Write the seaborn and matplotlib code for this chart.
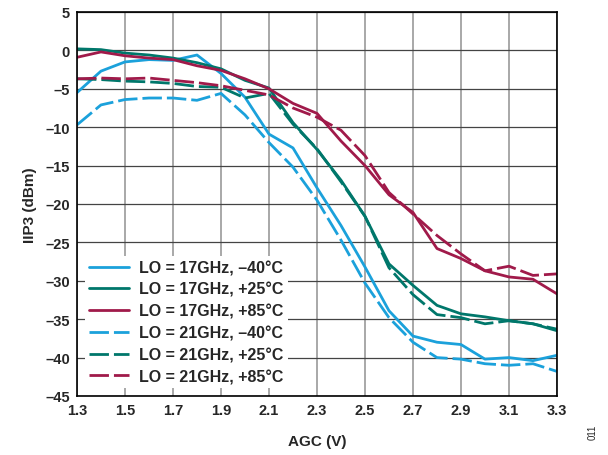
import numpy as np
import pandas as pd
import seaborn as sns
import matplotlib.pyplot as plt

# AGC voltage sweep (V)
agc = [1.3, 1.4, 1.5, 1.6, 1.7, 1.8, 1.9, 2.0, 2.1, 2.2, 2.3,
       2.4, 2.5, 2.6, 2.7, 2.8, 2.9, 3.0, 3.1, 3.2, 3.3]

# IIP3 (dBm)
lo17_m40 = [-5.5, -2.7, -1.5, -1.2, -1.3, -0.6, -3.0, -6.1, -10.9, -12.7, -17.9,
            -22.8, -28.2, -33.9, -37.2, -38.0, -38.3, -40.2, -40.0, -40.4, -39.7]
lo17_p25 = [0.2, 0.1, -0.35, -0.6, -1.0, -1.6, -2.4, -3.9, -4.9, -9.4, -12.9,
            -16.9, -21.6, -27.8, -30.6, -33.2, -34.3, -34.7, -35.2, -35.6, -36.5]
lo17_p85 = [-0.9, -0.2, -0.7, -1.0, -1.2, -2.0, -2.6, -3.7, -5.0, -6.9, -8.2,
            -11.8, -15.0, -18.8, -21.1, -25.8, -27.1, -28.7, -29.5, -29.8, -31.7]
lo21_m40 = [-9.7, -7.1, -6.4, -6.2, -6.2, -6.5, -5.6, -8.4, -12.0, -15.2, -19.5,
            -24.7, -30.3, -34.8, -38.0, -40.0, -40.2, -40.8, -41.0, -40.8, -41.8]
lo21_p25 = [-3.7, -3.8, -4.0, -4.1, -4.3, -4.7, -4.8, -6.2, -5.6, -9.6, -12.8,
            -17.1, -21.6, -28.3, -31.8, -34.4, -34.8, -35.6, -35.2, -35.6, -36.3]
lo21_p85 = [-3.7, -3.6, -3.7, -3.6, -3.9, -4.2, -4.6, -5.2, -5.8, -7.5, -8.7,
            -10.4, -13.7, -18.5, -21.3, -24.1, -26.5, -28.7, -28.1, -29.3, -29.1]

labels = ["LO = 17GHz, \u201340°C", "LO = 17GHz, +25°C", "LO = 17GHz, +85°C",
          "LO = 21GHz, \u201340°C", "LO = 21GHz, +25°C", "LO = 21GHz, +85°C"]
series = [lo17_m40, lo17_p25, lo17_p85, lo21_m40, lo21_p25, lo21_p85]

blue, teal, maroon = "#1ba1db", "#00776b", "#a01a4a"
palette = dict(zip(labels, [blue, teal, maroon, blue, teal, maroon]))
dash_map = dict(zip(labels, [""] * 3 + [(7, 1.8)] * 3))

df = pd.concat([pd.DataFrame({"AGC": agc, "IIP3": v, "series": l})
                for l, v in zip(labels, series)])

sns.set_style("white")
plt.rcParams["font.family"] = ["Liberation Sans", "DejaVu Sans"]
plt.rcParams["font.weight"] = "bold"

fig = plt.figure(figsize=(6.08, 4.56), dpi=100)
ax = fig.add_axes([0.1266, 0.1294, 0.7895, 0.8421])

sns.lineplot(data=df, x="AGC", y="IIP3", hue="series", style="series",
             hue_order=labels, style_order=labels, palette=palette,
             dashes=dash_map, linewidth=2.0, ax=ax)

ax.set_xlim(1.3, 3.3)
ax.set_ylim(-45, 5)
ax.set_xticks(np.arange(1.3, 3.31, 0.2))
ax.set_xticklabels([f"{t:.1f}" for t in np.arange(1.3, 3.31, 0.2)])
ax.set_yticks(np.arange(-45, 6, 5))
ax.set_yticklabels([f"{t}".replace("-", "\u2013") for t in range(-45, 6, 5)])
ax.xaxis.grid(True, color="#999999", linewidth=1.2)
ax.yaxis.grid(True, color="#444444", linewidth=0.9)
ax.set_axisbelow(True)
ax.tick_params(labelsize=10.5, length=0, pad=5)
for s in ax.spines.values():
    s.set_color("black")
    s.set_linewidth(1.2)

ax.set_xlabel("AGC (V)", fontsize=11, fontweight="bold", labelpad=12)
ax.set_ylabel("IIP3 (dBm)", fontsize=11, fontweight="bold", labelpad=6)

leg = ax.legend(loc="lower left", bbox_to_anchor=(0.0, 0.0), frameon=True,
                fancybox=False, edgecolor="none", facecolor="white", framealpha=1,
                fontsize=11.5, handlelength=2.5, handletextpad=0.65, labelspacing=0.42,
                borderpad=0.25)
for t in leg.get_texts():
    t.set_fontweight("bold")

fig.text(0.975, 0.035, "011", rotation=90, fontsize=7, fontweight="normal",
         ha="center", va="bottom")

fig.savefig("out.png", dpi=100)
